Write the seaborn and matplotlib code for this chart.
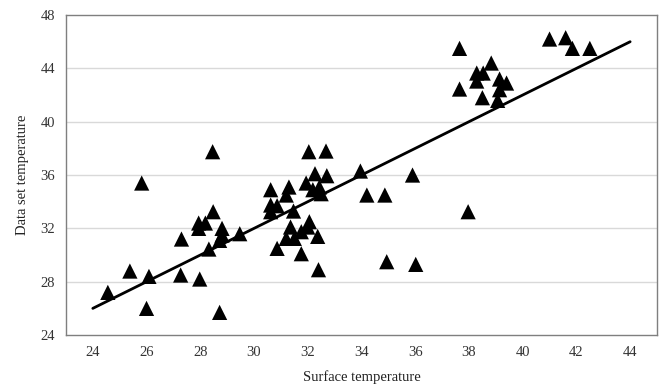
import matplotlib
matplotlib.use("Agg")
import matplotlib.pyplot as plt
import seaborn as sns
import pandas as pd

surface = [24.56, 25.38, 25.82, 26.09, 26.0, 27.3, 27.27, 27.94, 28.19, 27.94,
           28.48, 27.98, 28.32, 28.46, 28.81, 28.81, 28.72, 28.72, 29.47,
           30.62, 30.62, 30.62, 30.86, 30.86, 31.3, 31.2, 31.47, 31.36, 31.2,
           31.5, 31.76, 31.76, 32.06, 32.0, 32.37, 32.4, 31.94, 32.43, 32.5,
           32.19, 32.04, 32.68, 32.27, 32.71, 33.96, 34.2, 34.87, 35.9,
           34.94, 36.02, 37.97,
           37.65, 37.65, 38.29, 38.53, 38.29, 38.83, 39.14, 39.4, 39.14, 38.5,
           39.07, 41.0, 41.6, 41.85, 42.5]
dataset = [27.2, 28.8, 35.4, 28.4, 26.0, 31.2, 28.5, 32.4, 32.4, 32.0,
           33.25, 28.2, 30.45, 37.75, 32.0, 31.5, 31.1, 25.7, 31.6,
           34.9, 33.75, 33.25, 33.7, 30.5, 35.1, 34.5, 33.3, 32.1, 31.25,
           31.25, 31.75, 30.1, 32.5, 32.1, 31.4, 28.9, 35.4, 35.1, 34.6,
           34.9, 37.75, 37.8, 36.1, 35.95, 36.3, 34.5, 34.5, 36.0,
           29.5, 29.3, 33.25,
           45.5, 42.45, 43.65, 43.65, 43.05, 44.4, 43.2, 42.9, 42.4, 41.8,
           41.6, 46.2, 46.3, 45.5, 45.5]

fit_x = [24, 44]
fit_y = [26, 46]

x_ticks = [24, 26, 28, 30, 32, 34, 36, 38, 40, 42, 44]
y_ticks = [24, 28, 32, 36, 40, 44, 48]

sns.set_style("white")
plt.rcParams['font.family'] = ['Liberation Serif', 'DejaVu Serif']

fig = plt.figure(figsize=(6.66, 3.86), dpi=100)
ax = fig.add_axes([0.099, 0.132, 0.8875, 0.829])

df = pd.DataFrame({"x": surface, "y": dataset})
for yv in y_ticks[1:-1]:
    ax.axhline(yv, color="#d9d9d9", lw=1.0, zorder=0)

sns.lineplot(x=fit_x, y=fit_y, ax=ax, color="black", lw=2.0, zorder=2)
sns.scatterplot(data=df, x="x", y="y", ax=ax, marker="^", color="black",
                s=120, edgecolor="none", linewidth=0, zorder=3)

ax.set_xlim(23, 45)
ax.set_ylim(24, 48)
ax.set_xticks(x_ticks)
ax.set_yticks(y_ticks)
ax.tick_params(axis="both", length=0, labelsize=10.5, colors="#333333", pad=8)
for sp in ax.spines.values():
    sp.set_color("#7f7f7f")
    sp.set_linewidth(1.0)
ax.set_xlabel("Surface temperature", fontsize=10.5, color="#222222", labelpad=8)
ax.set_ylabel("Data set temperature", fontsize=10.5, color="#222222", labelpad=8)

fig.savefig("out.png", dpi=100)
